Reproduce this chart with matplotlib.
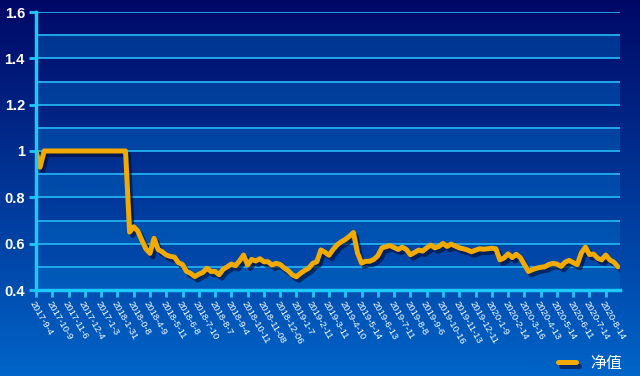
import matplotlib
matplotlib.use("Agg")
import matplotlib.pyplot as plt
import matplotlib.patheffects as pe
from matplotlib.colors import LinearSegmentedColormap
import numpy as np

plt.rcParams['font.family'] = ['Liberation Sans', 'Noto Sans CJK SC', 'DejaVu Sans']

# net value, sampled 4 points per tick interval
nav = [1.0, 0.93] + [1.0] * 21 + [
    0.65, 0.673, 0.655, 0.615, 0.578, 0.558, 0.623, 0.575, 0.565, 0.551,
    0.545, 0.542, 0.518, 0.51, 0.48, 0.472, 0.458, 0.468, 0.476, 0.494,
    0.48, 0.48, 0.466, 0.49, 0.50, 0.512, 0.505, 0.525, 0.551, 0.508,
    0.532, 0.525, 0.535, 0.522, 0.522, 0.508, 0.515, 0.51, 0.495, 0.483,
    0.465, 0.457, 0.472, 0.484, 0.494, 0.515, 0.522, 0.573, 0.563, 0.55,
    0.575, 0.595, 0.608, 0.618, 0.632, 0.648, 0.56, 0.516, 0.524, 0.524,
    0.532, 0.548, 0.582, 0.587, 0.592, 0.583, 0.575, 0.585, 0.575, 0.552,
    0.562, 0.572, 0.568, 0.582, 0.594, 0.582, 0.588, 0.601, 0.588, 0.598,
    0.59, 0.582, 0.578, 0.573, 0.565, 0.572, 0.578, 0.576, 0.578, 0.58,
    0.578, 0.53, 0.538, 0.556, 0.54, 0.554, 0.54, 0.51, 0.48, 0.488,
    0.494, 0.498, 0.50, 0.51, 0.515, 0.512, 0.502, 0.52, 0.528, 0.518,
    0.51, 0.56, 0.585, 0.553, 0.555, 0.537, 0.53, 0.551, 0.53, 0.52,
    0.50,
]

dates = ["2017-9-4", "2017-10-9", "2017-11-6", "2017-12-4", "2017-1-3",
         "2018-1-31", "2018-0-8", "2018-4-9", "2018-5-11", "2018-6-8",
         "2018-7-10", "2018-8-7", "2018-9-4", "2018-10-11", "2018-11-08",
         "2018-12-06", "2019-1-7", "2019-2-11", "2019-3-11", "2019-4-10",
         "2019-5-14", "2019-6-13", "2019-7-11", "2019-8-8", "2019-9-6",
         "2019-10-16", "2019-11-13", "2019-12-11", "2020-1-9", "2020-2-14",
         "2020-3-16", "2020-4-13", "2020-5-14", "2020-6-11", "2020-7-14",
         "2020-8-14"]
per_tick = 4

fig = plt.figure(figsize=(6.4, 3.76), dpi=100)

# background gradient
bg = fig.add_axes([0, 0, 1, 1])
cmap = LinearSegmentedColormap.from_list("bg", ["#000866", "#0064c8"])
bg.imshow(np.linspace(0, 1, 256).reshape(-1, 1), aspect='auto', cmap=cmap,
          extent=[0, 1, 0, 1], origin='upper')
bg.axis('off')

ax = fig.add_axes([36 / 640, 1 - 290 / 376, 584 / 640, 278 / 376])
ax.set_facecolor('none')

for lo in np.arange(0.4, 1.5, 0.2):
    ax.axhspan(lo, lo + 0.1, color='#006ec8', alpha=0.4, lw=0, zorder=0)
for g in np.arange(0.5, 1.65, 0.1):
    ax.axhline(g, color='#22b0f0', lw=1.3, zorder=1)

x = np.arange(len(nav))
shadow = [pe.SimpleLineShadow(offset=(2, -2.5), shadow_color='#000830', alpha=0.6), pe.Normal()]
ax.plot(x, nav, color='#f2aa00', lw=3.6, solid_joinstyle='round', solid_capstyle='round',
        zorder=3, label='净值', path_effects=shadow)

ax.set_ylim(0.4, 1.6)
ax.set_xlim(0, len(nav) - 0.5)
ax.set_yticks([0.4, 0.6, 0.8, 1.0, 1.2, 1.4, 1.6])
ax.set_yticklabels(['0.4', '0.6', '0.8', '1', '1.2', '1.4', '1.6'],
                   fontsize=10.5, fontweight='bold', color='white')
ax.set_xticks(np.arange(len(dates)) * per_tick)
ax.set_xticklabels(dates, rotation=-60, ha='left', va='top', rotation_mode='anchor',
                   fontsize=6.8, color='white')

for s in ['top', 'right']:
    ax.spines[s].set_visible(False)
for s in ['left', 'bottom']:
    ax.spines[s].set_color('#1ec8f8')
    ax.spines[s].set_linewidth(2.5)
    ax.spines[s].set_zorder(4)
ax.tick_params(axis='x', colors='#1ec8f8', length=5, width=2, pad=2, labelcolor='white')
ax.tick_params(axis='y', colors='#1ec8f8', length=5, width=2, pad=3, labelcolor='white')

leg = fig.legend(loc='lower right', bbox_to_anchor=(0.995, -0.025), frameon=False,
                 fontsize=11.5, handlelength=1.1, handletextpad=0.9, labelcolor='white')

fig.savefig("out.png", dpi=100)
